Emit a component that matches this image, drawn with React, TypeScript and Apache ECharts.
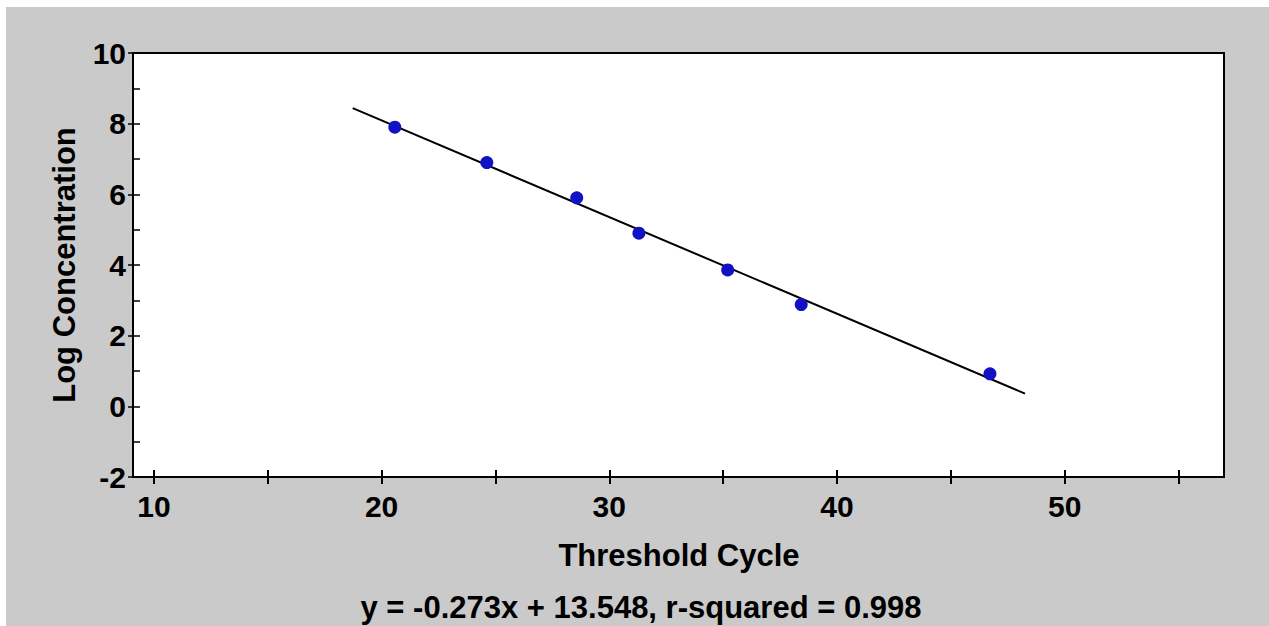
import React, { useEffect, useRef } from "react";
import * as echarts from "echarts";

// Data
const thresholdCycle = [20.58, 24.62, 28.57, 31.3, 35.2, 38.43, 46.72];
const logConcentration = [7.9, 6.9, 5.9, 4.9, 3.86, 2.88, 0.92];
const fitLineX = [18.73, 48.26];
const fitLineY = [8.44, 0.36];
const xTickValues = [10, 15, 20, 25, 30, 35, 40, 45, 50, 55];
const xLabelValues = [10, 20, 30, 40, 50];
const xAxisTitle = "Threshold Cycle";
const yAxisTitle = "Log Concentration";
const equationText = "y = -0.273x + 13.548, r-squared = 0.998";

const FONT = "'Liberation Sans', Arial, sans-serif";

export default function App() {
  const ref = useRef<HTMLDivElement>(null);
  useEffect(() => {
    if (!ref.current) return;
    const chart = echarts.init(ref.current, undefined, { renderer: "svg" });
    const points = thresholdCycle.map((x, i) => [x, logConcentration[i]]);
    const fit = fitLineX.map((x, i) => [x, fitLineY[i]]);
    const labelStyle = { color: "#000", fontFamily: FONT, fontWeight: "bold" as const, fontSize: 30 };
    chart.setOption({
      animation: false,
      backgroundColor: "#cacaca",
      grid: {
        left: 133,
        right: 45,
        top: 53,
        bottom: 149,
        show: true,
        backgroundColor: "#ffffff",
        borderColor: "#000",
        borderWidth: 2,
        containLabel: false,
        outerBoundsMode: "none",
      },
      xAxis: [
        {
          type: "value",
          min: 9.08,
          max: 57,
          position: "bottom",
          axisLine: { show: true, onZero: false, lineStyle: { color: "#000", width: 2 } },
          axisTick: { show: true, customValues: xTickValues, length: 7, lineStyle: { color: "#000", width: 2 } },
          axisLabel: { show: true, customValues: xLabelValues, margin: 14, ...labelStyle },
          splitLine: { show: false },
        },
        {
          type: "value",
          min: 9.08,
          max: 57,
          position: "bottom",
          axisLine: { show: false, onZero: false },
          axisTick: { show: true, inside: true, customValues: xTickValues, length: 7, lineStyle: { color: "#000", width: 2 } },
          axisLabel: { show: false },
          splitLine: { show: false },
        },
      ],
      yAxis: [
        {
          type: "value",
          min: -2,
          max: 10,
          interval: 2,
          position: "left",
          axisLine: { show: true, onZero: false, lineStyle: { color: "#000", width: 2 } },
          axisTick: { show: true, inside: true, length: 7, lineStyle: { color: "#000", width: 1.5 } },
          minorTick: { show: true, splitNumber: 2, length: 7, lineStyle: { color: "#000", width: 1.5 } },
          axisLabel: { show: true, margin: 7, ...labelStyle },
          splitLine: { show: false },
        },
        {
          type: "value",
          min: -2,
          max: 10,
          interval: 2,
          position: "left",
          axisLine: { show: false, onZero: false },
          axisTick: { show: true, inside: false, length: 5, lineStyle: { color: "#000", width: 1.5 } },
          axisLabel: { show: false },
          splitLine: { show: false },
        },
      ],
      series: [
        {
          type: "line",
          data: fit,
          showSymbol: false,
          symbol: "none",
          lineStyle: { color: "#000", width: 2 },
          z: 2,
          silent: true,
        },
        {
          type: "scatter",
          data: points,
          symbol: "circle",
          symbolSize: 13,
          itemStyle: { color: "#1212c4", opacity: 1 },
          z: 3,
        },
      ],
      graphic: [
        { type: "rect", left: 0, top: 0, shape: { x: 0, y: 0, width: 1269, height: 7 }, style: { fill: "#ffffff" }, silent: true },
        { type: "rect", left: 0, top: 0, shape: { x: 0, y: 0, width: 6, height: 626 }, style: { fill: "#ffffff" }, silent: true },
        {
          type: "text",
          x: 64,
          y: 265,
          rotation: Math.PI / 2,
          style: { text: yAxisTitle, fill: "#000", font: `bold 31px ${FONT}`, align: "center", verticalAlign: "middle" },
        },
        {
          type: "text",
          x: 679,
          y: 555,
          style: { text: xAxisTitle, fill: "#000", font: `bold 31px ${FONT}`, align: "center", verticalAlign: "middle" },
        },
        {
          type: "text",
          x: 641,
          y: 607,
          style: { text: equationText, fill: "#000", font: `bold 31px ${FONT}`, align: "center", verticalAlign: "middle" },
        },
      ],
    });
    return () => chart.dispose();
  }, []);
  return (
    <div
      ref={ref}
      style={{ position: "fixed", left: 0, top: 0, width: 1269, height: 626 }}
    />
  );
}
